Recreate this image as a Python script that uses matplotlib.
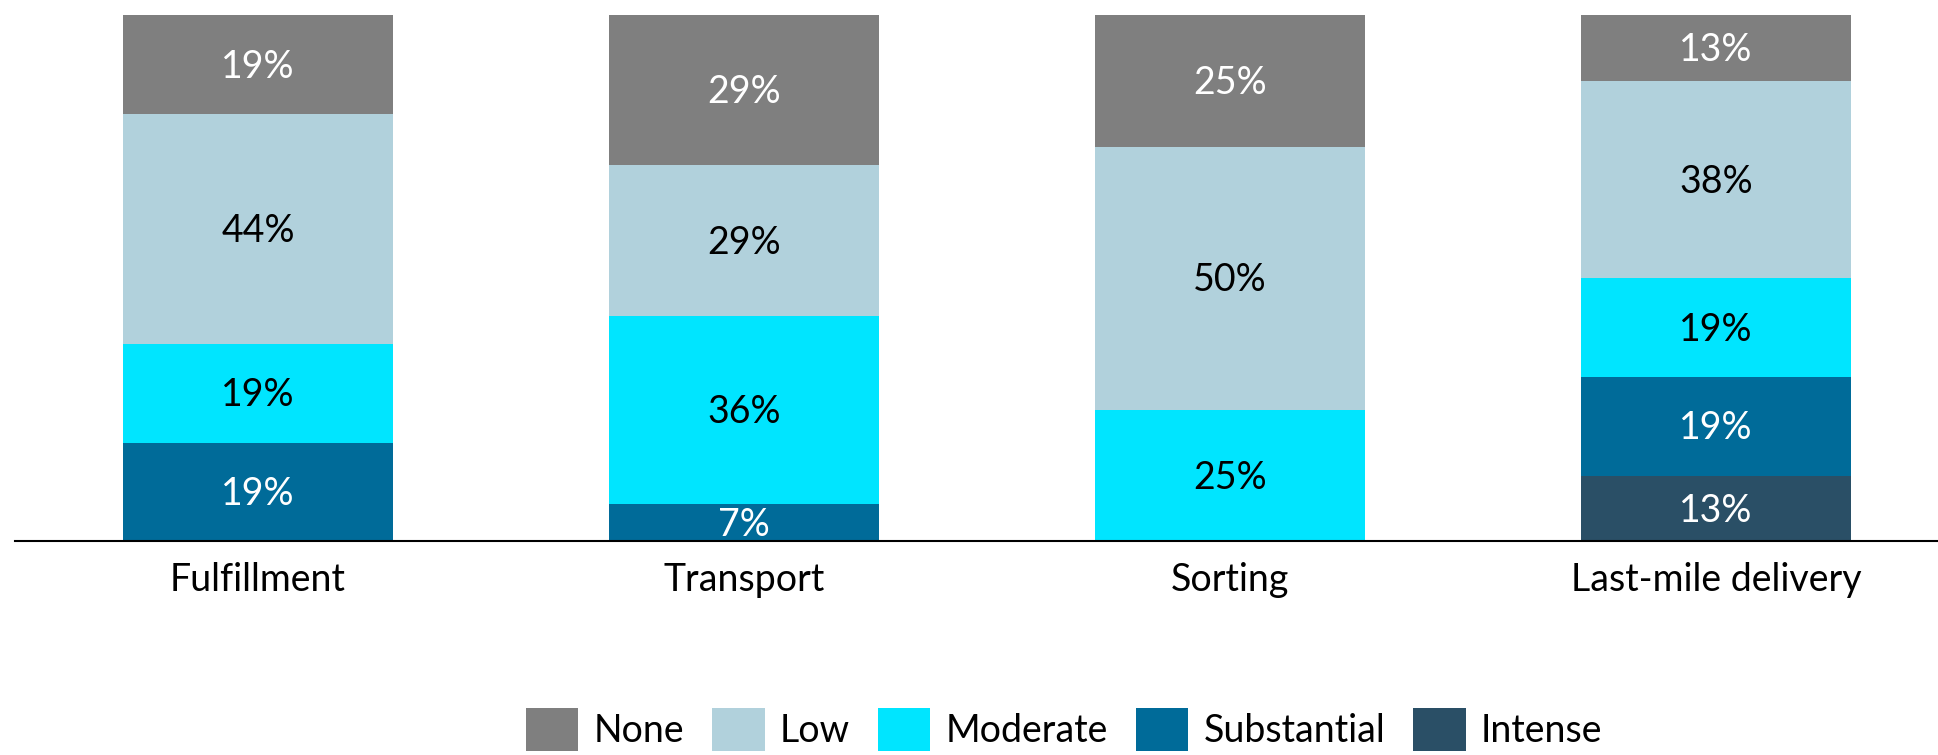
import matplotlib
matplotlib.use("Agg")
import matplotlib.pyplot as plt
import numpy as np

# Data (shares per category)
categories = ["Fulfillment", "Transport", "Sorting", "Last-mile delivery"]
levels = ["Intense", "Substantial", "Moderate", "Low", "None"]  # bottom -> top
intense = [0, 0, 0, 12.5]
substantial = [18.75, 7.14, 0, 18.75]
moderate = [18.75, 35.71, 25, 18.75]
low = [43.75, 28.57, 50, 37.5]
none = [18.75, 28.57, 25, 12.5]

colors = {
    "None": "#7f7f7f",
    "Low": "#b1d1dc",
    "Moderate": "#00e5ff",
    "Substantial": "#006b99",
    "Intense": "#2a4f66",
}
text_colors = {
    "None": "white",
    "Low": "black",
    "Moderate": "black",
    "Substantial": "white",
    "Intense": "white",
}

plt.rcParams['font.family'] = ['Lato', 'DejaVu Sans']
fs = 27

fig = plt.figure(figsize=(19.38, 7.55), dpi=100)
ax = fig.add_axes([0.0077, 0.283, 0.9923, 0.697])

x = np.arange(len(categories))
series = {"Intense": intense, "Substantial": substantial, "Moderate": moderate,
          "Low": low, "None": none}
bottom = np.zeros(len(categories))
handles = {}
for lev in levels:
    vals = np.array(series[lev]) / 100.0
    bars = ax.bar(x, vals, width=0.555, bottom=bottom, color=colors[lev],
                  label=lev, linewidth=0)
    handles[lev] = bars
    for xi, b, v in zip(x, bottom, vals):
        if v > 0:
            ax.text(xi, b + v / 2 - 0.004, f"{int(v * 100 + 0.5)}%", ha="center",
                    va="center", fontsize=fs, color=text_colors[lev])
    bottom += vals

ax.set_xlim(-0.5, 3.457)
ax.set_ylim(0, 1)
ax.set_xticks(x)
ax.set_xticklabels(categories, fontsize=fs)
ax.tick_params(axis="x", length=0, pad=15)
ax.set_yticks([])
for side in ["top", "right", "left"]:
    ax.spines[side].set_visible(False)
ax.spines["bottom"].set_linewidth(1.5)

# legend sits at the very bottom edge (raised just enough to keep text whole)
order = ["None", "Low", "Moderate", "Substantial", "Intense"]
fig.legend([handles[k] for k in order], order, loc="center",
           bbox_to_anchor=(0.549, 0.034), ncol=5, frameon=False, fontsize=fs,
           handlelength=1.4, handleheight=1.4, handletextpad=0.4,
           columnspacing=0.75)

fig.savefig("out.png", dpi=100)
